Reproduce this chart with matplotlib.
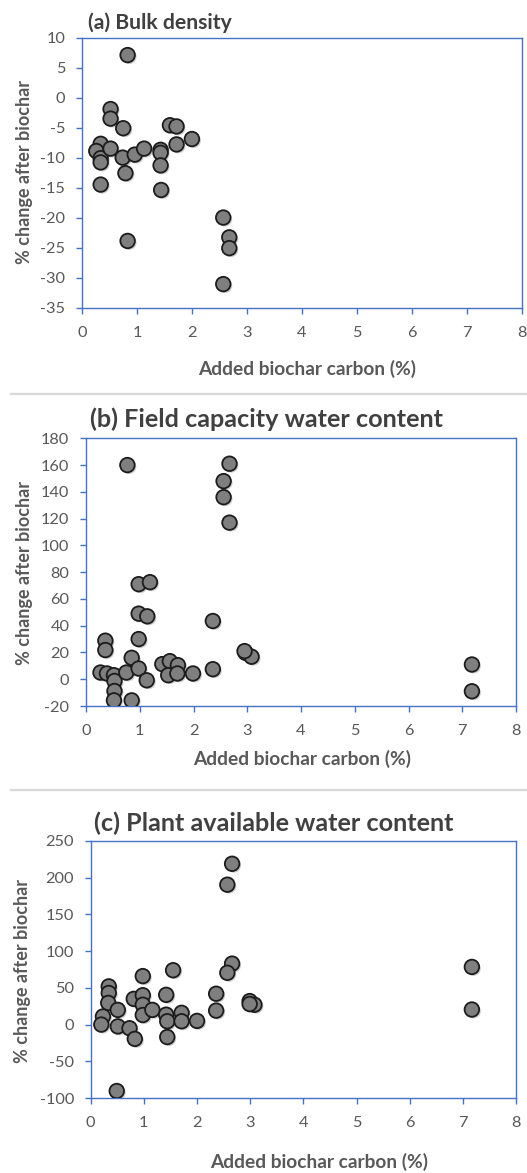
import matplotlib
matplotlib.use("Agg")
import matplotlib.pyplot as plt
import matplotlib.patheffects as pe
from matplotlib.lines import Line2D

# ---------------- data ----------------
bd_x = [0.83, 0.52, 0.52, 0.75, 0.34, 0.26, 0.34, 0.34, 0.52, 0.74, 0.79, 0.34, 0.83,
        0.96, 1.13, 1.43, 1.43, 1.43, 1.44, 1.60, 1.72, 1.72, 2.00, 2.57, 2.68, 2.68, 2.57]
bd_y = [7.1, -1.9, -3.5, -5.1, -7.7, -8.9, -10.1, -10.8, -8.5, -10.0, -12.6, -14.5, -23.9,
        -9.5, -8.5, -8.7, -9.2, -11.3, -15.4, -4.6, -4.8, -7.8, -6.9, -20.0, -23.3, -25.1, -31.1]

fc_x = [0.77, 2.67, 2.56, 2.56, 2.67, 0.98, 1.19, 0.98, 1.14, 2.36, 0.98, 0.36, 0.36,
        0.85, 2.97, 3.08, 0.27, 0.39, 0.52, 0.53, 0.53, 0.52, 0.85, 0.75, 0.98, 1.13,
        1.42, 1.56, 1.71, 1.53, 1.70, 1.99, 2.36, 7.18, 7.18, 2.95]
fc_y = [160, 161, 148, 136, 117, 71, 72.5, 49, 47, 43.5, 30, 28.8, 21.8,
        16, 19.7, 16.8, 5, 4.3, 3, -1.3, -8.8, -15.8, -15.8, 5, 8, -0.8,
        11.3, 13.5, 10.5, 3, 4.3, 4.3, 7.5, 11, -9, 21]

paw_x = [2.66, 2.57, 2.66, 2.57, 1.55, 0.98, 0.34, 0.34, 0.33, 0.51, 0.23, 0.20, 0.51,
         0.73, 0.83, 0.81, 0.98, 0.98, 0.98, 1.16, 1.42, 1.42, 1.44, 1.44, 1.71, 1.71,
         2.00, 2.36, 2.36, 2.99, 3.08, 2.99, 7.17, 7.17, 0.49]
paw_y = [219, 190.5, 83, 70.5, 74, 66, 52, 43, 29.5, 20, 11, 0, -2.5,
         -5, -19.5, 35, 40, 27, 13, 20, 40.5, 13.5, 4.5, -17, 16, 4.5,
         5, 42, 19, 32, 27, 28, 78.5, 20.5, -90.5]

titles = ["(a) Bulk density", "(b) Field capacity water content", "(c) Plant available water content"]
ylims = [(-35, 10), (-20, 180), (-100, 250)]
ysteps = [5, 20, 50]
xlab = "Added biochar carbon (%)"
ylab = "% change after biochar"

# ---------------- layout (pixels) ----------------
W, H = 527, 1173
plt.rcParams['font.family'] = ['Lato', 'DejaVu Sans']
plt.rcParams['axes.unicode_minus'] = False
fig = plt.figure(figsize=(W / 100, H / 100), dpi=100)

boxes = [(82, 521.7, 37.7, 307.5), (86, 516, 438.3, 706), (90.7, 516, 841, 1098)]
title_pos = [(88, 29), (90, 427), (94, 831)]
title_size = [15.2, 18.2, 18.2]
xlab_pos = [(307, 369), (302, 759), (319, 1162)]
ylab_pos = [(25, 172), (25, 573), (23, 971)]

spine_col = '#4472C4'
txt_col = '#595959'
title_col = '#404040'

datasets = [(bd_x, bd_y), (fc_x, fc_y), (paw_x, paw_y)]

for i, ((l, r, t, b), (xs, ys)) in enumerate(zip(boxes, datasets)):
    ax = fig.add_axes([l / W, 1 - b / H, (r - l) / W, (b - t) / H])
    sc = ax.scatter(xs, ys, s=110, facecolor='#7f7f7f', edgecolor='#1c1c1c',
                    linewidths=1.3, zorder=3)
    sc.set_path_effects([pe.SimplePatchShadow(offset=(1.2, -1.2), shadow_rgbFace='#9a9a9a', alpha=0.5),
                         pe.Normal()])
    ax.set_xlim(0, 8)
    ax.set_ylim(*ylims[i])
    ax.set_xticks(range(0, 9))
    lo, hi = ylims[i]
    ax.set_yticks(list(range(lo, hi + 1, ysteps[i])))
    for s in ax.spines.values():
        s.set_color(spine_col)
        s.set_linewidth(1.0)
    ax.tick_params(axis='both', direction='out', length=4, width=1.0, color=spine_col,
                   labelcolor=txt_col, labelsize=11.8)
    ax.tick_params(axis='x', pad=9)
    ax.tick_params(axis='y', pad=8)
    tx, ty = title_pos[i]
    fig.text(tx / W, 1 - ty / H, titles[i], fontsize=title_size[i], fontweight='bold',
             color=title_col, ha='left', va='baseline')
    xx, xy = xlab_pos[i]
    fig.text(xx / W, 1 - xy / H, xlab, fontsize=13.8, fontweight='bold',
             color=txt_col, ha='center', va='center')
    yx, yy = ylab_pos[i]
    fig.text(yx / W, 1 - yy / H, ylab, fontsize=13, fontweight='bold',
             color=txt_col, ha='center', va='center', rotation=90)

# separators between panels
for yy in (394, 790):
    fig.add_artist(Line2D([11 / W, 1.0], [1 - yy / H, 1 - yy / H], color='#d9d9d9',
                          linewidth=1.6, transform=fig.transFigure))

fig.savefig("out.png", dpi=100, facecolor='white')
